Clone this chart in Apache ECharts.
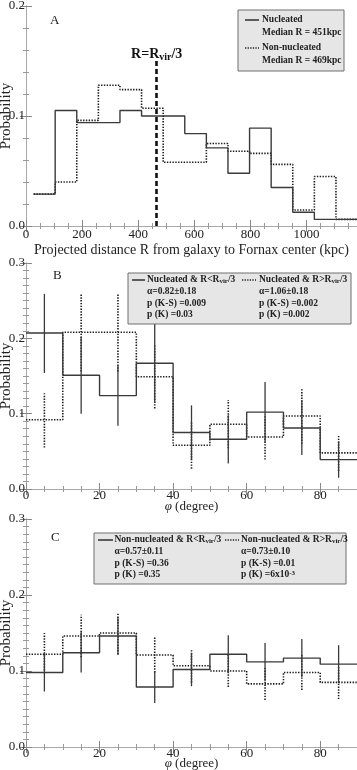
<!DOCTYPE html>
<html>
<head>
<meta charset="utf-8">
<script src="https://cdn.jsdelivr.net/npm/echarts@6/dist/echarts.min.js"></script>
<style>
html,body{margin:0;padding:0;background:#fff;}
#c{width:357px;height:770px;}
</style>
</head>
<body>
<div id="c"></div>
<script>
// ---------- DATA ----------
// Panel A: histogram of projected distance (kpc)
const rEdges = [27,104,181,258,335,412,489,566,643,720,797,874,951,1028,1105,1180];
const nucR = [0.029,0.105,0.094,0.094,0.105,0.100,0.100,0.084,0.071,0.048,0.089,0.035,0.0125,0.006,0.006];
const nonNucR = [0.029,0.040,0.096,0.128,0.124,0.107,0.058,0.058,0.075,0.068,0.066,0.056,0.0145,0.045,0.006];
const rVir3 = 466;
const rVir3Top = 0.15;

// Panels B and C: phi histograms (degree)
const phiEdges = [0,10,20,30,40,50,60,70,80,90];
// B: nucleated, R<Rvir/3 (solid)
const bInVal = [0.207,0.151,0.124,0.167,0.075,0.066,0.102,0.081,0.039];
const bInLo  = [0.154,0.100,0.084,0.114,0.039,0.034,0.061,0.045,0.015];
const bInHi  = [0.259,0.202,0.164,0.220,0.111,0.098,0.142,0.118,0.063];
// B: nucleated, R>Rvir/3 (dotted)
const bOutVal = [0.092,0.208,0.208,0.149,0.058,0.086,0.069,0.097,0.048];
const bOutLo  = [0.055,0.156,0.156,0.107,0.027,0.054,0.039,0.060,0.024];
const bOutHi  = [0.127,0.260,0.260,0.191,0.089,0.118,0.099,0.134,0.072];
// C: non-nucleated, R<Rvir/3 (solid)
const cInVal = [0.098,0.124,0.146,0.079,0.102,0.122,0.112,0.117,0.109];
const cInLo  = [0.073,0.098,0.121,0.058,0.080,0.097,0.087,0.092,0.084];
const cInHi  = [0.123,0.152,0.171,0.100,0.124,0.147,0.137,0.142,0.134];
// C: non-nucleated, R>Rvir/3 (dotted)
const cOutVal = [0.122,0.146,0.150,0.121,0.107,0.100,0.083,0.098,0.085];
const cOutLo  = [0.097,0.118,0.122,0.098,0.085,0.079,0.062,0.075,0.063];
const cOutHi  = [0.150,0.174,0.177,0.144,0.129,0.122,0.104,0.122,0.107];

const aTicks = {min:0, max:1180, interval:200};
const phiTicks = {min:0, max:90, interval:20};

// ---------- HELPERS ----------
const SERIF = "'Liberation Serif','DejaVu Serif',serif";
const AX = '#a8a8a8';
const LINE = '#3a3a3a';
const DOT = '#1e1e1e';

function steps(edges, vals){
  const out=[];
  for(let i=0;i<vals.length;i++){ out.push([edges[i],vals[i]]); out.push([edges[i+1],vals[i]]); }
  return out;
}
function centers(edges){ const c=[]; for(let i=0;i<edges.length-1;i++) c.push((edges[i]+edges[i+1])/2); return c; }
function errData(edges, lo, hi){ const c=centers(edges); return c.map((x,i)=>[x,lo[i],hi[i]]); }

function xAxes(grid, t, name, nameGap, nameFont, minorSplit, margin){
  const base = {
    gridIndex:grid, type:'value', min:t.min, max:t.max, interval:t.interval,
    axisLine:{show:true,lineStyle:{color:AX,width:1}},
    splitLine:{show:false},
    axisTick:{show:true,inside:true,length:6,lineStyle:{color:'#888'}},
    minorTick:{show:true,splitNumber:minorSplit,length:3,lineStyle:{color:'#999'}},
  };
  return [
    Object.assign({}, base, {position:'bottom',
      axisLabel:{show:true,margin:margin,fontFamily:SERIF,fontSize:13,lineHeight:12,color:'#222',showMaxLabel:false,formatter:v=>String(v)},
      name:name, nameLocation:'middle', nameGap:nameGap, nameMoveOverlap:false, nameTextStyle:nameFont}),
    Object.assign({}, base, {position:'top', axisLabel:{show:false}})
  ];
}
function yAxes(grid, max, interval, minorSplit){
  const base = {
    gridIndex:grid, type:'value', min:0, max:max, interval:interval,
    axisLine:{show:true,lineStyle:{color:AX,width:1}},
    splitLine:{show:false},
    axisTick:{show:true,inside:true,length:6,lineStyle:{color:'#888'}},
    minorTick:{show:true,splitNumber:minorSplit,length:3,lineStyle:{color:'#999'}},
  };
  return [
    Object.assign({}, base, {position:'left',
      axisLabel:{show:true,margin:1,fontFamily:SERIF,fontSize:13,color:'#222',formatter:v=>v.toFixed(1)},
      name:'Probability', nameLocation:'middle', nameGap:12, nameMoveOverlap:false,
      nameTextStyle:{fontFamily:SERIF,fontSize:15,color:'#222'}}),
    Object.assign({}, base, {position:'right', axisLabel:{show:false}})
  ];
}
function stepSeries(xi, yi, data, dotted, extra){
  return Object.assign({
    type:'line', xAxisIndex:xi, yAxisIndex:yi, data:data, showSymbol:false, silent:true,
    lineStyle:{color:dotted?DOT:LINE, width:dotted?1.6:1.4, type:dotted?[1.4,1.4]:'solid'},
    z:dotted?3:4, animation:false
  }, extra||{});
}
function errSeries(xi, yi, data, dotted){
  return {
    type:'custom', xAxisIndex:xi, yAxisIndex:yi, data:data, silent:true, animation:false,
    z:dotted?3:4,
    renderItem:function(params, api){
      const p1=api.coord([api.value(0),api.value(1)]);
      const p2=api.coord([api.value(0),api.value(2)]);
      return {type:'line', shape:{x1:p1[0],y1:p1[1],x2:p2[0],y2:p2[1]},
        style:{stroke:dotted?DOT:LINE, lineWidth:dotted?1.6:1.3, lineDash:dotted?[1.4,1.4]:null}};
    }
  };
}

// ---------- LEGEND BOXES (graphic) ----------
const richSub = {
  b:{fontFamily:SERIF,fontSize:9.5,fontWeight:'bold',fill:'#222'},
  sub:{fontFamily:SERIF,fontSize:7,fontWeight:'bold',fill:'#222',verticalAlign:'bottom',padding:[3,0,0,0]},
  sup:{fontFamily:SERIF,fontSize:7,fontWeight:'bold',fill:'#222',verticalAlign:'top',padding:[0,0,3,0]}
};
function txt(x,y,text){
  return {type:'text', x:x, y:y, silent:true, z:20,
    style:{text:text, rich:richSub, fontFamily:SERIF, fontSize:9.5, fontWeight:'bold', fill:'#222', verticalAlign:'middle'}};
}
function ln(x1,x2,y,dotted){
  return {type:'line', silent:true, z:20, shape:{x1:x1,y1:y,x2:x2,y2:y},
    style:{stroke:'#222', lineWidth:dotted?1.5:1.4, lineDash:dotted?[1.3,1.3]:null}};
}
function box(x,y,w,h){
  return {type:'rect', silent:true, z:19, shape:{x:x,y:y,width:w,height:h},
    style:{fill:'#e6e6e6', stroke:'#6e6e6e', lineWidth:1}};
}

const graphics = [
  // Panel A legend
  box(238,10,106,61),
  ln(245,259,20,false), txt(262,20,'{b|Nucleated}'),
  txt(262,33,'{b|Median R = 451kpc}'),
  ln(245,259,48,true), txt(262,48,'{b|Non-nucleated}'),
  txt(262,61,'{b|Median R = 469kpc}'),
  // Panel B legend
  box(128,273,223,51),
  ln(132,145,280,false), txt(147,280,'{b|Nucleated & R<R}{sub|vir}{b|/3}'),
  txt(147,292,'{b|α=0.82±0.18}'),
  txt(147,303.5,'{b|p (K-S) =0.009}'),
  txt(147,314.5,'{b|p (K) =0.03}'),
  ln(242,256,280,true), txt(259,280,'{b|Nucleated & R>R}{sub|vir}{b|/3}'),
  txt(259,292,'{b|α=1.06±0.18}'),
  txt(259,303.5,'{b|p (K-S) =0.002}'),
  txt(259,314.5,'{b|p (K) =0.002}'),
  // Panel C legend
  box(94,533,252,51),
  ln(98,113,540,false), txt(114.5,540,'{b|Non-nucleated & R<R}{sub|vir}{b|/3}'),
  txt(114.5,552,'{b|α=0.57±0.11}'),
  txt(114.5,563.5,'{b|p (K-S) =0.36}'),
  txt(114.5,574.5,'{b|p (K) =0.35}'),
  ln(225,239,540,true), txt(241,540,'{b|Non-nucleated & R>R}{sub|vir}{b|/3}'),
  txt(241,552,'{b|α=0.73±0.10}'),
  txt(241,563.5,'{b|p (K-S) =0.01}'),
  txt(241,574.5,'{b|p (K) =6x10}{sup|-3}'),
  // Panel letters
  {type:'text', x:50, y:21, silent:true, style:{text:'A', fontFamily:SERIF, fontSize:13, fill:'#222', verticalAlign:'middle'}},
  {type:'text', x:53, y:276, silent:true, style:{text:'B', fontFamily:SERIF, fontSize:13, fill:'#222', verticalAlign:'middle'}},
  {type:'text', x:51, y:538, silent:true, style:{text:'C', fontFamily:SERIF, fontSize:13, fill:'#222', verticalAlign:'middle'}}
];

// ---------- OPTION ----------
const phiName = {
  lineHeight:12,
  rich:{
    i:{fontFamily:SERIF,fontSize:13,lineHeight:12,fontStyle:'italic',color:'#222'},
    n:{fontFamily:SERIF,fontSize:13,lineHeight:12,color:'#222'}
  }
};
const xA = xAxes(0, aTicks, 'Projected distance R from galaxy to Fornax center (kpc)', 17,
  {fontFamily:SERIF,fontSize:14,color:'#222'}, 4, 3);
const xB = xAxes(1, phiTicks, '{i|φ}{n| (degree)}', 12, phiName, 4, 1);
const xC = xAxes(2, phiTicks, '{i|φ}{n| (degree)}', 11, phiName, 4, 1);
const yA = yAxes(0, 0.2, 0.1, 5);
const yB = yAxes(1, 0.3, 0.1, 10);
const yC = yAxes(2, 0.3, 0.1, 10);

const gridBase = {containLabel:false, outerBoundsMode:'none'};
const option = {
  animation:false,
  backgroundColor:'#fff',
  grid:[
    Object.assign({left:26, top:6, width:331, height:220}, gridBase),
    Object.assign({left:26, top:263, width:331, height:226}, gridBase),
    Object.assign({left:26, top:519, width:331, height:228}, gridBase)
  ],
  xAxis:[xA[0],xA[1],xB[0],xB[1],xC[0],xC[1]],
  yAxis:[yA[0],yA[1],yB[0],yB[1],yC[0],yC[1]],
  series:[
    stepSeries(0,0,steps(rEdges,nonNucR),true),
    stepSeries(0,0,steps(rEdges,nucR),false,{
      markLine:{
        silent:true, symbol:['none','none'], animation:false,
        lineStyle:{color:'#111', width:2.6, type:[5,3]},
        label:{show:true, position:'end', distance:-1, formatter:'{t|R=R}{s|vir}{t|/3}',
          rich:{t:{fontFamily:SERIF,fontSize:14,fontWeight:'bold',color:'#111'},
                s:{fontFamily:SERIF,fontSize:10,fontWeight:'bold',color:'#111',verticalAlign:'bottom',padding:[5,0,0,0]}}},
        data:[[{coord:[rVir3,0]},{coord:[rVir3,rVir3Top]}]]
      }
    }),
    stepSeries(2,2,steps(phiEdges,bOutVal),true),
    stepSeries(2,2,steps(phiEdges,bInVal),false),
    errSeries(2,2,errData(phiEdges,bOutLo,bOutHi),true),
    errSeries(2,2,errData(phiEdges,bInLo,bInHi),false),
    stepSeries(4,4,steps(phiEdges,cOutVal),true),
    stepSeries(4,4,steps(phiEdges,cInVal),false),
    errSeries(4,4,errData(phiEdges,cOutLo,cOutHi),true),
    errSeries(4,4,errData(phiEdges,cInLo,cInHi),false)
  ],
  graphic:graphics
};

const chart = echarts.init(document.getElementById('c'), null, {renderer:'canvas'});
chart.setOption(option);
</script>
</body>
</html>
